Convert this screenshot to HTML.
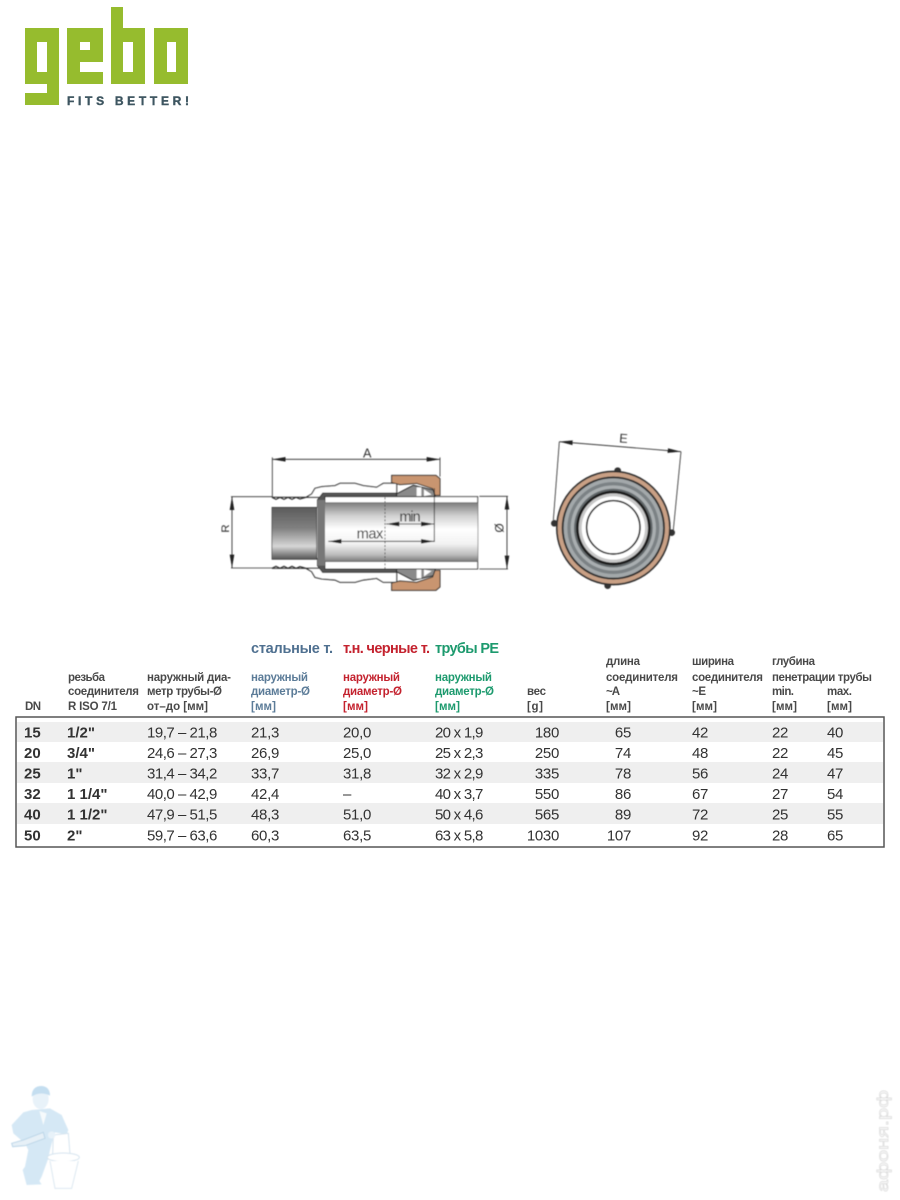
<!DOCTYPE html>
<html><head><meta charset="utf-8"><title>Gebo</title>
<style>
html,body{margin:0;padding:0;background:#fff}
svg{display:block}
text{font-family:"Liberation Sans",sans-serif}
.h{font-size:11.5px;font-weight:bold;fill:#4a4a4a}
.v{font-size:15px;fill:#333;letter-spacing:-.3px}
.b{font-size:15px;font-weight:bold;fill:#333}
.t{font-size:14.5px;font-weight:bold}
</style></head><body>
<svg width="900" height="1200" viewBox="0 0 900 1200" xmlns="http://www.w3.org/2000/svg">
<defs>
<filter id="s" x="-5%" y="-5%" width="110%" height="110%"><feGaussianBlur stdDeviation="1.2"/></filter>
<filter id="s2" x="-5%" y="-5%" width="110%" height="110%"><feGaussianBlur stdDeviation="0.35"/></filter>
<filter id="s3" x="-5%" y="-5%" width="110%" height="110%"><feGaussianBlur stdDeviation="0.5"/></filter>
<linearGradient id="pipe" x1="0" y1="0" x2="0" y2="1">
<stop offset="0" stop-color="#7c7c7c"/><stop offset=".22" stop-color="#d0d0d0"/><stop offset=".45" stop-color="#fff"/><stop offset=".7" stop-color="#f2f2f2"/><stop offset=".88" stop-color="#bdbdbd"/><stop offset="1" stop-color="#777"/>
</linearGradient>
<linearGradient id="bore" x1="0" y1="0" x2="0" y2="1">
<stop offset="0" stop-color="#5c5c5c"/><stop offset=".4" stop-color="#808080"/><stop offset=".75" stop-color="#d6d6d6"/><stop offset="1" stop-color="#555"/>
</linearGradient>
<marker id="ar" markerUnits="userSpaceOnUse" markerWidth="42" markerHeight="16" refX="40" refY="8" orient="auto-start-reverse"><path d="M0,1 L40,8 L0,15 Z" fill="#222"/></marker>
<g id="half">
<path d="M216,232 L228,238 240,232 252,238 264,232 276,238 288,232 300,237 318,232 L335,222 345,205 365,200 405,197 420,190 465,190 490,197 530,202 550,190 590,190 590,232 Z" fill="#fff" stroke="#2e2e2e" stroke-width="3.5"/>
<path d="M352,262 L352,240 368,219 590,219 590,230 375,230 375,262 Z" fill="#555" stroke="#222" stroke-width="2"/>
<path d="M590,222 L640,196 700,210 706,230 590,230 Z" fill="#8a8a8a" stroke="#222" stroke-width="3"/>
<path d="M650,202 L664,202 664,228 650,228 Z" fill="#fff"/>
<path d="M672,208 L695,224 672,228 Z" fill="#fff"/>
<path d="M575,188 L575,166 L708,166 L720,176 L720,226 L705,226 L698,206 L650,190 L600,194 Z" fill="#c9956f" stroke="#2e2e2e" stroke-width="3"/>
</g>
</defs>

<!-- logo -->
<g fill="#96bc2e" filter="url(#s2)">
<path fill-rule="evenodd" d="M25,28H59V105H25V93H47V84H25ZM37,42V72H47V42Z"/>
<path fill-rule="evenodd" d="M67,28H103V62H80V72H103V84H67ZM80,42V50H90V42Z"/>
<path fill-rule="evenodd" d="M111,7H123V28H145V84H111ZM123,42V72H133V42Z"/>
<path fill-rule="evenodd" d="M154,28H188V84H154ZM167,42V72H176V42Z"/>
</g>
<text x="67" y="105" font-size="12" font-weight="bold" fill="#3d5560" stroke="#3d5560" stroke-width=".4" textLength="122" filter="url(#s2)">FITS BETTER!</text>

<!-- side view -->
<g transform="translate(200,420) scale(0.3333)" filter="url(#s)">
<rect x="216" y="262" width="134" height="156" fill="url(#bore)" stroke="#333" stroke-width="2"/>
<use href="#half"/>
<use href="#half" transform="matrix(1 0 0 -1 0 677)"/>
<rect x="375" y="230" width="458" height="217" fill="#fff" stroke="#333" stroke-width="3"/>
<rect x="375" y="248" width="458" height="177" fill="url(#pipe)"/>
<path d="M375,248H833M375,425H833" stroke="#555" stroke-width="2"/>
<rect x="352" y="240" width="23" height="197" fill="#777"/>
<path d="M555,232V447" stroke="#444" stroke-width="2.5" stroke-dasharray="6 5" fill="none"/>
<path d="M703,205V366" stroke="#222" stroke-width="2.5" fill="none"/>
<path d="M217,112V232M720,112V170M93,230H217M93,444H217M838,229H924M838,447H924" stroke="#333" stroke-width="2.5" fill="none"/>
<g stroke="#222" stroke-width="2.5" fill="none">
<path d="M217,118H720" marker-start="url(#ar)" marker-end="url(#ar)"/>
<path d="M96,230V444" marker-start="url(#ar)" marker-end="url(#ar)"/>
<path d="M921,229V447" marker-start="url(#ar)" marker-end="url(#ar)"/>
<path d="M558,312H703" marker-start="url(#ar)" marker-end="url(#ar)"/>
<path d="M385,364H703" marker-start="url(#ar)" marker-end="url(#ar)"/>
</g>
<text x="489" y="112" font-size="38" fill="#333">A</text>
<text x="598" y="305" font-size="44" fill="#333" textLength="64">min</text>
<text x="470" y="356" font-size="44" fill="#333" textLength="80">max</text>
<text transform="translate(87,338) rotate(-90)" font-size="34" fill="#333">R</text>
<text transform="translate(910,338) rotate(-90)" font-size="36" fill="#333">Ø</text>
</g>

<!-- end view -->
<g transform="translate(530,420) scale(0.3333)" filter="url(#s)">
<circle cx="263" cy="152" r="10" fill="#333"/><circle cx="233" cy="497" r="10" fill="#333"/><circle cx="73" cy="310" r="10" fill="#333"/><circle cx="425" cy="338" r="10" fill="#333"/>
<circle cx="250" cy="324" r="172" fill="#2f2f2f"/>
<circle cx="250" cy="324" r="167" fill="#c9a085"/>
<circle cx="250" cy="324" r="155" fill="#333"/>
<circle cx="250" cy="324" r="149" fill="#a3a8aa"/>
<circle cx="250" cy="324" r="138" fill="#7c8285"/>
<circle cx="250" cy="324" r="128" fill="#a9aeb0"/>
<circle cx="250" cy="324" r="118" fill="#62686a"/>
<circle cx="250" cy="324" r="112" fill="#1e1e1e"/>
<circle cx="250" cy="324" r="104" fill="#c7c7c7"/>
<circle cx="250" cy="324" r="95" fill="#fff"/>
<circle cx="250" cy="322" r="80" fill="#fff" stroke="#222" stroke-width="5"/>
<path d="M88,65L70,300M453,95L430,330" stroke="#333" stroke-width="2.5" fill="none"/>
<path d="M88,65L453,95" stroke="#222" stroke-width="2.5" fill="none" marker-start="url(#ar)" marker-end="url(#ar)"/>
<text x="268" y="68" font-size="38" fill="#333" transform="rotate(4 280 55)">E</text>
</g>

<!-- table -->
<rect x="17" y="722" width="866" height="20" fill="#efefef"/>
<rect x="17" y="762" width="866" height="21" fill="#efefef"/>
<rect x="17" y="803" width="866" height="21" fill="#efefef"/>
<rect x="16" y="717" width="868" height="130" fill="none" stroke="#555" stroke-width="1.5"/>

<g filter="url(#s2)">
<text class="t" x="251" y="653" fill="#4f7090" textLength="82">стальные т.</text>
<text class="t" x="343" y="653" fill="#c4222f" textLength="87">т.н. черные т.</text>
<text class="t" x="435" y="653" fill="#1f9a6e" textLength="64">трубы PE</text>

<text class="h" x="25" y="710" textLength="16">DN</text>
<text class="h" x="68" y="681" textLength="37">резьба</text>
<text class="h" x="68" y="695" textLength="71">соединителя</text>
<text class="h" x="68" y="710" textLength="49">R  ISO 7/1</text>
<text class="h" x="147" y="681" textLength="84">наружный диа-</text>
<text class="h" x="147" y="695" textLength="75">метр трубы-Ø</text>
<text class="h" x="147" y="710" textLength="61">от–до [мм]</text>

<text class="h" style="fill:#5b7b98" x="251" y="681" textLength="57">наружный</text>
<text class="h" style="fill:#5b7b98" x="251" y="695" textLength="59">диаметр-Ø</text>
<text class="h" style="fill:#5b7b98" x="251" y="710" textLength="25">[мм]</text>
<text class="h" style="fill:#c4222f" x="343" y="681" textLength="57">наружный</text>
<text class="h" style="fill:#c4222f" x="343" y="695" textLength="59">диаметр-Ø</text>
<text class="h" style="fill:#c4222f" x="343" y="710" textLength="25">[мм]</text>
<text class="h" style="fill:#1f9a6e" x="435" y="681" textLength="57">наружный</text>
<text class="h" style="fill:#1f9a6e" x="435" y="695" textLength="59">диаметр-Ø</text>
<text class="h" style="fill:#1f9a6e" x="435" y="710" textLength="25">[мм]</text>

<text class="h" x="527" y="695" textLength="19">вес</text>
<text class="h" x="527" y="710" textLength="16">[g]</text>

<text class="h" x="606" y="665" textLength="34">длина</text>
<text class="h" x="606" y="681" textLength="72">соединителя</text>
<text class="h" x="606" y="695" textLength="14">~A</text>
<text class="h" x="606" y="710" textLength="25">[мм]</text>

<text class="h" x="692" y="665" textLength="42">ширина</text>
<text class="h" x="692" y="681" textLength="71">соединителя</text>
<text class="h" x="692" y="695" textLength="14">~E</text>
<text class="h" x="692" y="710" textLength="25">[мм]</text>

<text class="h" x="772" y="665" textLength="43">глубина</text>
<text class="h" x="772" y="681" textLength="100">пенетрации трубы</text>
<text class="h" x="772" y="695" textLength="22">min.</text>
<text class="h" x="772" y="710" textLength="25">[мм]</text>
<text class="h" x="827" y="695" textLength="25">max.</text>
<text class="h" x="827" y="710" textLength="25">[мм]</text>

<g>
<text class="b" x="24" y="737.5">15</text><text class="b" x="67" y="737.5">1/2"</text>
<text class="v" x="147" y="737.5" textLength="70">19,7 – 21,8</text><text class="v" x="251" y="737.5">21,3</text><text class="v" x="343" y="737.5">20,0</text><text class="v" x="435" y="737.5" textLength="48">20 x 1,9</text>
<text class="v" x="559" y="737.5" text-anchor="end">180</text><text class="v" x="631" y="737.5" text-anchor="end">65</text><text class="v" x="692" y="737.5">42</text><text class="v" x="772" y="737.5">22</text><text class="v" x="827" y="737.5">40</text>
</g>
<g>
<text class="b" x="24" y="758">20</text><text class="b" x="67" y="758">3/4"</text>
<text class="v" x="147" y="758" textLength="70">24,6 – 27,3</text><text class="v" x="251" y="758">26,9</text><text class="v" x="343" y="758">25,0</text><text class="v" x="435" y="758" textLength="48">25 x 2,3</text>
<text class="v" x="559" y="758" text-anchor="end">250</text><text class="v" x="631" y="758" text-anchor="end">74</text><text class="v" x="692" y="758">48</text><text class="v" x="772" y="758">22</text><text class="v" x="827" y="758">45</text>
</g>
<g>
<text class="b" x="24" y="778.5">25</text><text class="b" x="67" y="778.5">1"</text>
<text class="v" x="147" y="778.5" textLength="70">31,4 – 34,2</text><text class="v" x="251" y="778.5">33,7</text><text class="v" x="343" y="778.5">31,8</text><text class="v" x="435" y="778.5" textLength="48">32 x 2,9</text>
<text class="v" x="559" y="778.5" text-anchor="end">335</text><text class="v" x="631" y="778.5" text-anchor="end">78</text><text class="v" x="692" y="778.5">56</text><text class="v" x="772" y="778.5">24</text><text class="v" x="827" y="778.5">47</text>
</g>
<g>
<text class="b" x="24" y="799">32</text><text class="b" x="67" y="799">1 1/4"</text>
<text class="v" x="147" y="799" textLength="70">40,0 – 42,9</text><text class="v" x="251" y="799">42,4</text><text class="v" x="343" y="799">–</text><text class="v" x="435" y="799" textLength="48">40 x 3,7</text>
<text class="v" x="559" y="799" text-anchor="end">550</text><text class="v" x="631" y="799" text-anchor="end">86</text><text class="v" x="692" y="799">67</text><text class="v" x="772" y="799">27</text><text class="v" x="827" y="799">54</text>
</g>
<g>
<text class="b" x="24" y="819.5">40</text><text class="b" x="67" y="819.5">1 1/2"</text>
<text class="v" x="147" y="819.5" textLength="70">47,9 – 51,5</text><text class="v" x="251" y="819.5">48,3</text><text class="v" x="343" y="819.5">51,0</text><text class="v" x="435" y="819.5" textLength="48">50 x 4,6</text>
<text class="v" x="559" y="819.5" text-anchor="end">565</text><text class="v" x="631" y="819.5" text-anchor="end">89</text><text class="v" x="692" y="819.5">72</text><text class="v" x="772" y="819.5">25</text><text class="v" x="827" y="819.5">55</text>
</g>
<g>
<text class="b" x="24" y="840.5">50</text><text class="b" x="67" y="840.5">2"</text>
<text class="v" x="147" y="840.5" textLength="70">59,7 – 63,6</text><text class="v" x="251" y="840.5">60,3</text><text class="v" x="343" y="840.5">63,5</text><text class="v" x="435" y="840.5" textLength="48">63 x 5,8</text>
<text class="v" x="559" y="840.5" text-anchor="end">1030</text><text class="v" x="631" y="840.5" text-anchor="end">107</text><text class="v" x="692" y="840.5">92</text><text class="v" x="772" y="840.5">28</text><text class="v" x="827" y="840.5">65</text>
</g>
</g>

<!-- mascot -->
<g transform="translate(0,1075) scale(0.3333)" filter="url(#s)">
<path d="M95,105L150,100 185,120 205,165 200,178 165,172 158,195 150,225 145,250 125,305 118,318 125,328 80,330 68,285 75,275 85,225 75,205 40,175 35,150 70,112Z" fill="#d5e8f5"/>
<path d="M35,205L70,195 130,172 135,190 75,212 38,215Z" fill="#e6f0f7" stroke="#bcd6e8" stroke-width="3"/>
<ellipse cx="122" cy="72" rx="24" ry="30" fill="#e8f2f9"/>
<path d="M95,65Q95,33 125,33 150,35 150,62 120,48 95,65Z" fill="#c4def0"/>
<path d="M118,108L140,115 130,150Z" fill="#f6fafc"/>
<path d="M160,180L205,175 210,237 158,237Z" fill="#fff" stroke="#d5e4ef" stroke-width="3"/>
<ellipse cx="190" cy="247" rx="48" ry="13" fill="#fff" stroke="#d5e4ef" stroke-width="3"/>
<path d="M150,258L165,340 215,340 235,258" fill="#fff" stroke="#dce8f1" stroke-width="3"/>
<circle cx="155" cy="180" r="11" fill="#e8f2f9"/>
</g>

<!-- watermark -->
<text transform="translate(888,1192) rotate(-90)" font-size="16" fill="#fff" stroke="#dcdcdc" stroke-width=".7" textLength="102" lengthAdjust="spacingAndGlyphs" filter="url(#s3)">афоня.рф</text>
</svg>
</body></html>
